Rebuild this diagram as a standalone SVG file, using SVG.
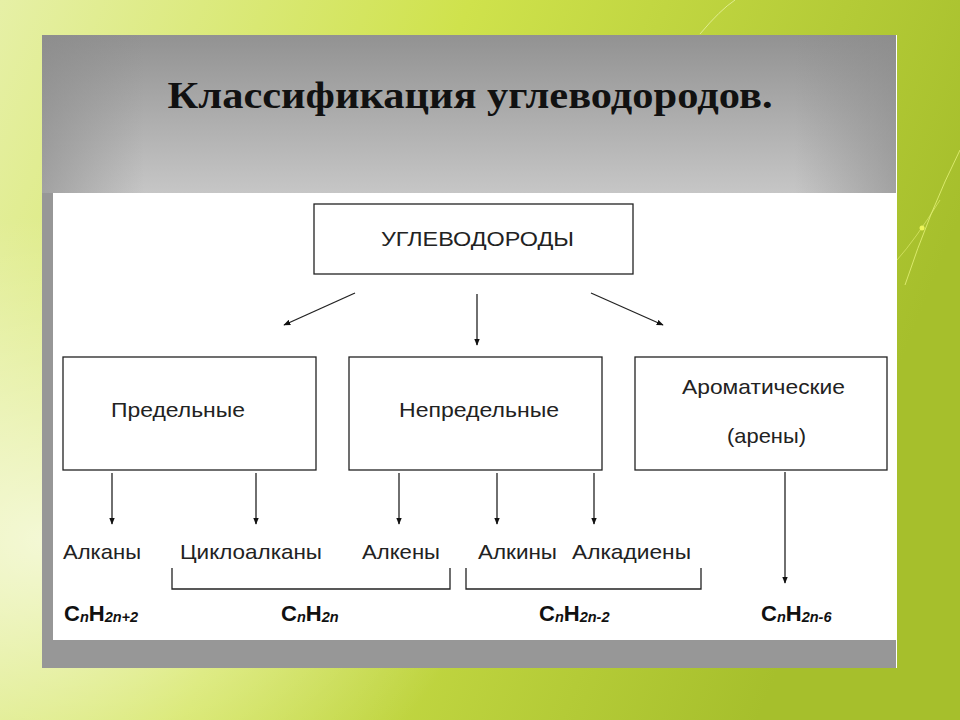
<svg xmlns="http://www.w3.org/2000/svg" width="960" height="720" viewBox="0 0 960 720">
<defs>
<linearGradient id="bg" x1="0" y1="0" x2="1" y2="0.3">
<stop offset="0" stop-color="#e6f0a6"/>
<stop offset="0.45" stop-color="#cfe24c"/>
<stop offset="1" stop-color="#a6bf2c"/>
</linearGradient>
<radialGradient id="glow" cx="0.05" cy="0.75" r="0.45">
<stop offset="0" stop-color="#ffffff" stop-opacity="0.7"/>
<stop offset="1" stop-color="#ffffff" stop-opacity="0"/>
</radialGradient>
<linearGradient id="hdr" x1="0" y1="0" x2="0" y2="1">
<stop offset="0" stop-color="#929292"/>
<stop offset="1" stop-color="#c6c6c6"/>
</linearGradient>
<linearGradient id="hdrSide" x1="0" y1="0" x2="1" y2="0">
<stop offset="0" stop-color="#8a8a8a" stop-opacity="0.6"/>
<stop offset="0.12" stop-color="#8a8a8a" stop-opacity="0"/>
<stop offset="0.88" stop-color="#8a8a8a" stop-opacity="0"/>
<stop offset="1" stop-color="#8a8a8a" stop-opacity="0.6"/>
</linearGradient>
<marker id="ah" viewBox="0 0 10 10" refX="9" refY="5" markerWidth="7" markerHeight="7" orient="auto" markerUnits="userSpaceOnUse">
<path d="M0,1 L10,5 L0,9 Z" fill="#111"/>
</marker>
<style>
.box{fill:#fff;stroke:#222;stroke-width:1.3}
.lbl{font-family:"Liberation Sans",Arial,sans-serif;font-size:21px;fill:#222}
.conn{stroke:#222;stroke-width:1.3;fill:none}
.f{font-family:"Liberation Sans",Arial,sans-serif;font-weight:bold;font-size:22px;fill:#111}
.s{font-style:italic;font-size:14.5px}
</style>
</defs>
<rect x="0" y="0" width="960" height="720" fill="url(#bg)"/>
<rect x="0" y="0" width="960" height="720" fill="url(#glow)"/>
<path d="M700,34 Q720,10 735,0" stroke="#eef6b0" stroke-width="1" fill="none" opacity="0.7"/>
<path d="M960,150 Q930,210 905,285" stroke="#e6f27a" stroke-width="1" fill="none" opacity="0.8"/>
<path d="M940,200 Q915,240 897,260" stroke="#e6f27a" stroke-width="1" fill="none" opacity="0.6"/>
<circle cx="922" cy="228" r="2.5" fill="#eef55a"/>
<rect x="42" y="35" width="855" height="633" fill="#979797"/>
<rect x="42" y="35" width="855" height="158" fill="url(#hdr)"/>
<rect x="42" y="35" width="855" height="158" fill="url(#hdrSide)"/>
<rect x="53" y="193" width="843" height="447" fill="#ffffff"/>
<line x1="896.5" y1="35" x2="896.5" y2="668" stroke="#ffffff" stroke-width="1"/>
<text x="470" y="108" text-anchor="middle" font-family="'Liberation Serif','Times New Roman',serif" font-weight="bold" font-size="38" fill="#111" textLength="605" lengthAdjust="spacingAndGlyphs">Классификация углеводородов.</text>
<g id="connectors">
<line class="conn" x1="355" y1="293" x2="284" y2="325" marker-end="url(#ah)"/>
<line class="conn" x1="477" y1="294" x2="477" y2="345" marker-end="url(#ah)"/>
<line class="conn" x1="591" y1="293" x2="663" y2="325" marker-end="url(#ah)"/>
<line class="conn" x1="112" y1="473" x2="112" y2="524" marker-end="url(#ah)"/>
<line class="conn" x1="256" y1="473" x2="256" y2="524" marker-end="url(#ah)"/>
<line class="conn" x1="399" y1="473" x2="399" y2="524" marker-end="url(#ah)"/>
<line class="conn" x1="497" y1="473" x2="497" y2="524" marker-end="url(#ah)"/>
<line class="conn" x1="594" y1="473" x2="594" y2="524" marker-end="url(#ah)"/>
<line class="conn" x1="785" y1="472" x2="785" y2="583" marker-end="url(#ah)"/>
<path class="conn" d="M172,568 V589 H450 V568"/>
<path class="conn" d="M466,568 V589 H701 V568"/>
</g>
<g id="n-root">
<rect class="box" x="314" y="204" width="319" height="70"/>
<text class="lbl" x="381" y="246" textLength="193" lengthAdjust="spacingAndGlyphs">УГЛЕВОДОРОДЫ</text>
</g>
<g id="n-saturated">
<rect class="box" x="63" y="357" width="253" height="113"/>
<text class="lbl" x="111" y="417" textLength="134" lengthAdjust="spacingAndGlyphs">Предельные</text>
</g>
<g id="n-unsaturated">
<rect class="box" x="349" y="357" width="253" height="113"/>
<text class="lbl" x="399" y="417" textLength="160" lengthAdjust="spacingAndGlyphs">Непредельные</text>
</g>
<g id="n-aromatic">
<rect class="box" x="635" y="357" width="252" height="113"/>
<text class="lbl" x="682" y="394" textLength="163" lengthAdjust="spacingAndGlyphs">Ароматические</text>
<text class="lbl" x="727" y="443" textLength="79" lengthAdjust="spacingAndGlyphs">(арены)</text>
</g>
<g id="n-alkanes"><text class="lbl" x="63" y="559" textLength="78" lengthAdjust="spacingAndGlyphs">Алканы</text></g>
<g id="n-cycloalkanes"><text class="lbl" x="180" y="559" textLength="142" lengthAdjust="spacingAndGlyphs">Циклоалканы</text></g>
<g id="n-alkenes"><text class="lbl" x="362" y="559" textLength="78" lengthAdjust="spacingAndGlyphs">Алкены</text></g>
<g id="n-alkynes"><text class="lbl" x="478" y="559" textLength="79" lengthAdjust="spacingAndGlyphs">Алкины</text></g>
<g id="n-alkadienes"><text class="lbl" x="572" y="559" textLength="119" lengthAdjust="spacingAndGlyphs">Алкадиены</text></g>
<g id="formulas">
<text class="f" x="64" y="621">C<tspan class="s" dy="1">n</tspan><tspan dy="-1">H</tspan><tspan class="s" dy="1">2n+2</tspan></text>
<text class="f" x="281" y="621">C<tspan class="s" dy="1">n</tspan><tspan dy="-1">H</tspan><tspan class="s" dy="1">2n</tspan></text>
<text class="f" x="539" y="621">C<tspan class="s" dy="1">n</tspan><tspan dy="-1">H</tspan><tspan class="s" dy="1">2n-2</tspan></text>
<text class="f" x="761" y="621">C<tspan class="s" dy="1">n</tspan><tspan dy="-1">H</tspan><tspan class="s" dy="1">2n-6</tspan></text>
</g>
</svg>
